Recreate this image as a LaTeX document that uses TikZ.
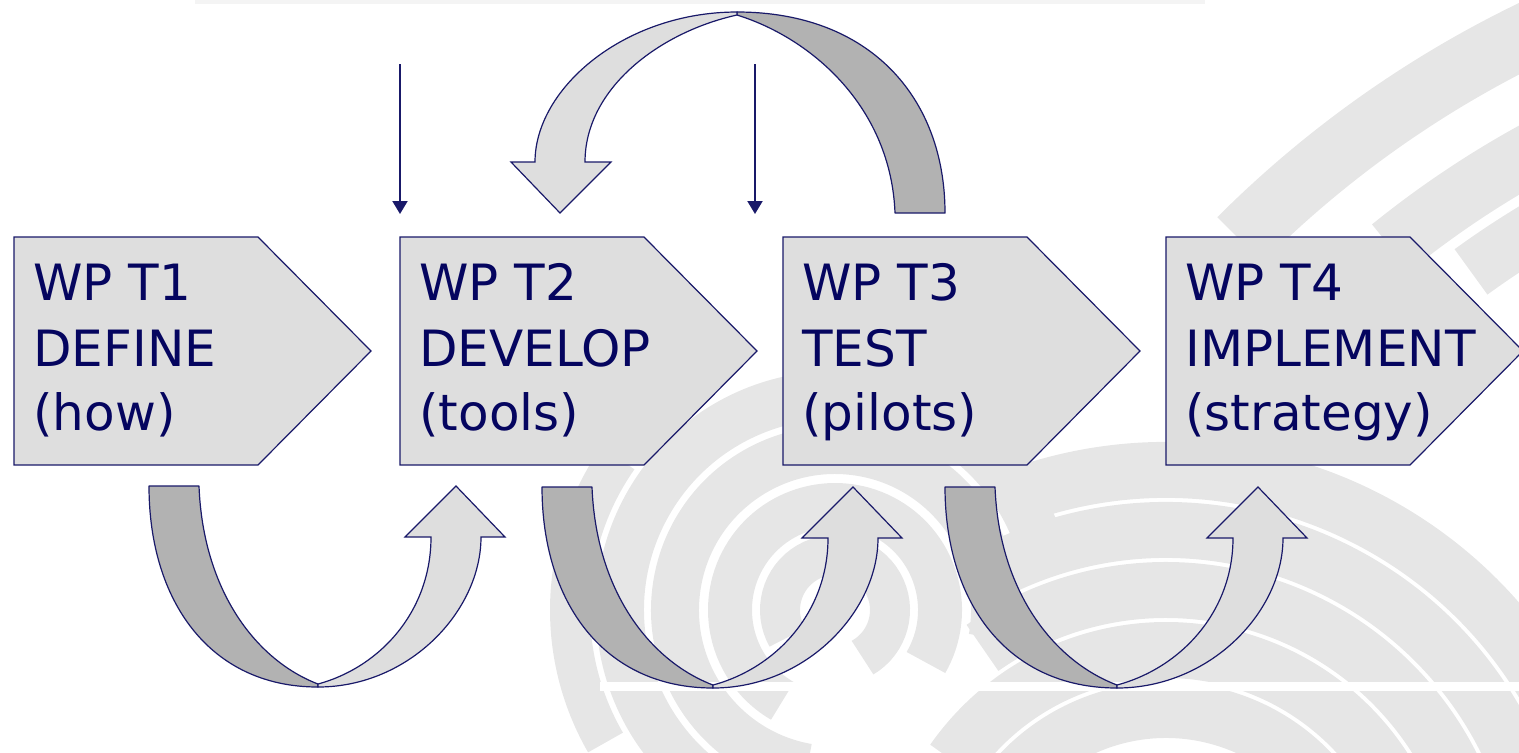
\documentclass[tikz,border=0pt]{standalone}
\usepackage{fontspec}
\newfontfamily\wpfont{DejaVu Sans}
\usetikzlibrary{arrows.meta}
\definecolor{navy}{RGB}{25,25,105}
\definecolor{txtblue}{RGB}{5,5,95}
\definecolor{boxgray}{RGB}{222,222,222}
\definecolor{darkband}{RGB}{178,178,178}
\definecolor{logogray}{RGB}{230,230,230}
\definecolor{topbar}{RGB}{244,244,244}
\tikzset{
  wpbox/.style={draw=navy, fill=boxgray, line width=0.6pt, line join=miter},
  wptext/.style={anchor=base west, inner sep=0pt, font=\wpfont\fontsize{25pt}{30pt}\selectfont, text=txtblue},
  backband/.style={draw=navy, fill=darkband, line width=0.6pt, line join=round},
  frontband/.style={draw=navy, fill=boxgray, line width=0.6pt, line join=miter},
  feed/.style={draw=navy, line width=1pt, -{Triangle[length=6.5pt,width=7.5pt]}},
  logoarc/.style={draw=logogray, line width=#1},
}
% ribbon arrow: #1,#2 = outer tail corner, #3 = half span R, #4 = extra transform
\newcommand{\ribbon}[4]{%
  \begin{scope}[shift={(#1,#2)},#4]
    \pgfmathsetmacro{\rbR}{#3}
    \pgfmathsetmacro{\rbO}{2*#3-6}
    \pgfmathsetmacro{\rbI}{2*#3-56}
    \path[backband] (0,0) .. controls (0,115) and ({0.36*\rbR},201) .. (\rbR,201)
      -- (\rbR,198) .. controls ({0.63*\rbR},174) and (54,104) .. (50,0) -- cycle;
    \path[frontband] (\rbR,198) .. controls ({1.37*\rbR},181) and (\rbI,125) .. (\rbI,51)
      -- ({\rbI-26},51) -- ({\rbO-25},0) -- ({\rbO+24},51) -- (\rbO,51)
      .. controls (\rbO,125) and ({1.54*\rbR},201) .. (\rbR,201) -- cycle;
  \end{scope}}
% work package box: #1 name, #2 left x, #3-#5 lines
\newcommand{\wpstage}[5]{%
  \path[wpbox] (#2,237) -- ({#2+244},237) -- ({#2+357},351) -- ({#2+244},465) -- (#2,465) -- cycle;
  \node[wptext] (#1a) at ({#2+19},300) {#3};
  \node[wptext] (#1b) at ({#2+19},366) {#4};
  \node[wptext] (#1c) at ({#2+19},430) {#5};}
\begin{document}
\begin{tikzpicture}[x=0.5pt,y=-0.5pt]
\useasboundingbox (0,0) rectangle (1519,752);
% ---------- background logo ----------
\begin{scope}
  \clip (0,0) rectangle (1519,752);
  \fill[topbar] (195,0) rectangle (1205,4);
  % swirl rings
  \draw[logoarc=20] (835,610) ++(150:55) arc[start angle=150, end angle=420, radius=55];
  \draw[logoarc=22] (835,610) ++(120:105) arc[start angle=120, end angle=390, radius=105];
  \draw[logoarc=24] (835,610) ++(100:160) arc[start angle=100, end angle=370, radius=160];
  \draw[logoarc=24] (835,610) ++(120:215) arc[start angle=120, end angle=340, radius=215];
  \draw[logoarc=20] (835,610) ++(150:265) arc[start angle=150, end angle=215, radius=265];
  % arcs under T4
  \draw[logoarc=28] (1166,910) ++(250:440) arc[start angle=250, end angle=370, radius=440];
  \draw[logoarc=28] (1166,910) ++(245:380) arc[start angle=245, end angle=370, radius=380];
  \draw[logoarc=28] (1166,910) ++(235:320) arc[start angle=235, end angle=370, radius=320];
  \draw[logoarc=28] (1166,910) ++(215:260) arc[start angle=215, end angle=370, radius=260];
  \draw[logoarc=28] (1166,910) ++(200:200) arc[start angle=200, end angle=370, radius=200];
  % large arcs top right
  \draw[logoarc=32] (2000,1000) ++(225:1075) arc[start angle=225, end angle=262, radius=1075];
  \draw[logoarc=30] (2000,1000) ++(231:968) arc[start angle=231, end angle=262, radius=968];
  \draw[logoarc=28] (2000,1000) ++(234:900) arc[start angle=234, end angle=262, radius=900];
  \fill[white] (600,682) rectangle (1519,691);
\end{scope}
% ---------- work packages ----------
\wpstage{tone}{14}{WP T1}{DEFINE}{(how)}
\wpstage{ttwo}{400}{WP T2}{DEVELOP}{(tools)}
\wpstage{tthree}{783}{WP T3}{TEST}{(pilots)}
\wpstage{tfour}{1166}{WP T4}{IMPLEMENT}{(strategy)}
% ---------- ribbon arrows ----------
\ribbon{149}{486}{169}{}
\ribbon{542}{487}{171}{}
\ribbon{945}{487}{172}{}
\ribbon{945}{213}{208}{xscale=-1,yscale=-1}
% ---------- input arrows ----------
\coordinate (inAs) at (400,64);
\coordinate (inAe) at (400,214);
\coordinate (inBs) at (755,64);
\coordinate (inBe) at (755,214);
\draw[feed] (inAs) -- (inAe);
\draw[feed] (inBs) -- (inBe);
\end{tikzpicture}
\end{document}
